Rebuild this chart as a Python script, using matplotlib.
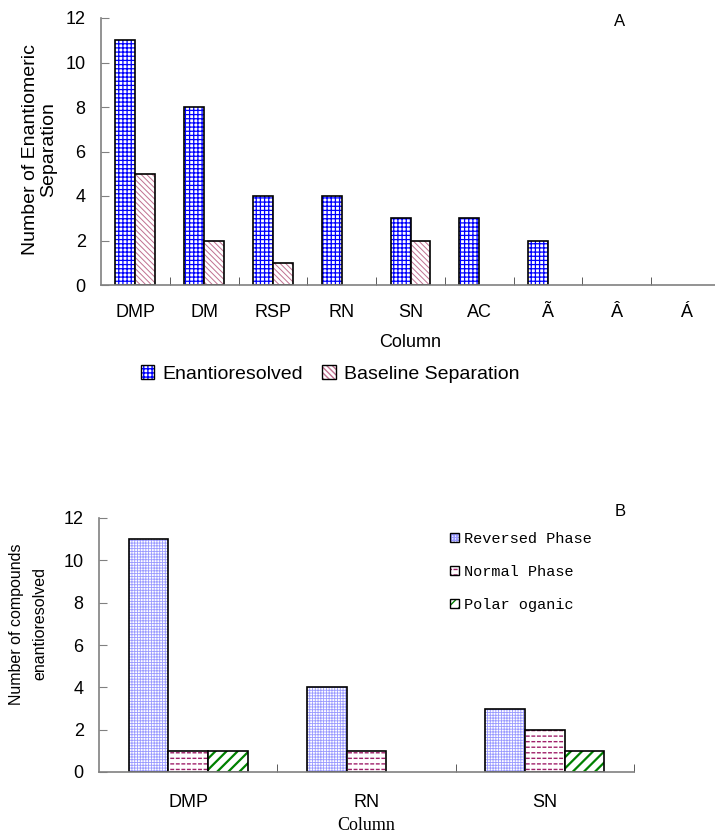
import numpy as np
import matplotlib
matplotlib.use("Agg")
import matplotlib.pyplot as plt
from matplotlib.patches import Patch

# panel A: number of enantiomeric separations per column
columns_a = ["DMP", "DM", "RSP", "RN", "SN", "AC", "Ã", "Â", "Á"]
enantioresolved = [11, 8, 4, 4, 3, 3, 2, 0, 0]
baseline_sep = [5, 2, 1, 0, 2, 0, 0, 0, 0]

# panel B: compounds enantioresolved per mode
columns_b = ["DMP", "RN", "SN"]
reversed_phase = [11, 4, 3]
normal_phase = [1, 1, 2]
polar_organic = [1, 0, 1]

SANS = "Liberation Sans"
SPINE = "#808080"

# hatch layers: (pattern, colour, hatch linewidth); later layers drawn on top
STYLE_ENANT = [("++++", "#0000ff", 0.9)]
STYLE_BASE = [("\\\\\\\\\\\\", "#c07090", 0.7)]
STYLE_RP = [("++++++", "#9a9aff", 0.6)]
# dashed horizontal lines: red lines cut by white verticals
STYLE_NP = [("---", "#a0206a", 1.0), ("|||", "white", 1.2)]
STYLE_PO = [("///", "#008000", 1.6)]


def hatched_bars(ax, x, heights, width, layers):
    """White bars with coloured hatching and a black outline."""
    x = np.asarray(x, dtype=float)
    h = np.asarray(heights, dtype=float)
    keep = h > 0
    ax.bar(x[keep], h[keep], width, color="white", linewidth=0)
    for hatch, color, lw in layers:
        with plt.rc_context({"hatch.linewidth": lw}):
            ax.bar(x[keep], h[keep], width, fill=False, edgecolor=color,
                   hatch=hatch, linewidth=0)
    ax.bar(x[keep], h[keep], width, fill=False, edgecolor="black", linewidth=1.2)


def legend_handle(layers):
    parts = [Patch(facecolor="white", linewidth=0)]
    for hatch, color, lw in layers:
        with plt.rc_context({"hatch.linewidth": lw}):
            parts.append(Patch(fill=False, edgecolor=color, hatch=hatch, linewidth=0))
    parts.append(Patch(fill=False, edgecolor="black", linewidth=1.0))
    return tuple(parts)


def style_axes(ax, n):
    for side in ("top", "right"):
        ax.spines[side].set_visible(False)
    for side in ("left", "bottom"):
        ax.spines[side].set_color(SPINE)
        ax.spines[side].set_linewidth(1.2)
    ax.set_xlim(-0.5, n - 0.5)
    ax.set_ylim(0, 12)
    ax.set_yticks(range(0, 13, 2))
    ax.tick_params(axis="y", direction="in", length=6, color=SPINE,
                   labelsize=13, pad=11)
    ax.set_xticks(np.arange(n))
    ax.set_xticks(np.arange(0.5, n), minor=True)
    ax.tick_params(axis="x", which="major", length=0, labelsize=13, pad=14)
    ax.tick_params(axis="x", which="minor", direction="in", length=6,
                   color="#404040")
    for lab in ax.get_xticklabels() + ax.get_yticklabels():
        lab.set_fontfamily(SANS)


fig = plt.figure(figsize=(7.15, 8.34), dpi=100)

# ---------------- panel A ----------------
axA = fig.add_axes([101 / 715, 1 - 285 / 834, 619 / 715, 267 / 834])
xa = np.arange(len(columns_a))
wa = 0.29
hatched_bars(axA, xa - wa / 2, enantioresolved, wa, STYLE_ENANT)
hatched_bars(axA, xa + wa / 2, baseline_sep, wa, STYLE_BASE)
style_axes(axA, len(columns_a))
axA.set_xticklabels(columns_a)
axA.set_xlabel("Column", fontsize=13, fontfamily=SANS, labelpad=9)
fig.text(31 / 715, 1 - 150 / 834, "Number of Enantiomeric", rotation=90,
         ha="center", va="center", fontsize=14, fontfamily=SANS)
fig.text(49 / 715, 1 - 150 / 834, "Separation", rotation=90,
         ha="center", va="center", fontsize=14, fontfamily=SANS)
fig.text(620 / 715, 1 - 22 / 834, "A", ha="center", va="center",
         fontsize=12, fontfamily=SANS)

fig.legend([legend_handle(STYLE_ENANT), legend_handle(STYLE_BASE)],
           ["Enantioresolved", "Baseline Separation"],
           loc="center", bbox_to_anchor=(330 / 715, 1 - 374 / 834), ncol=2,
           frameon=False, handlelength=0.7, handleheight=0.7,
           handletextpad=0.4, columnspacing=1.0,
           prop={"family": SANS, "size": 14})

# ---------------- panel B ----------------
axB = fig.add_axes([99 / 715, 1 - 772 / 834, 535 / 715, 254 / 834])
xb = np.arange(len(columns_b))
wb = 0.222
hatched_bars(axB, xb - wb, reversed_phase, wb, STYLE_RP)
hatched_bars(axB, xb, normal_phase, wb, STYLE_NP)
hatched_bars(axB, xb + wb, polar_organic, wb, STYLE_PO)
style_axes(axB, len(columns_b))
axB.set_xticklabels(columns_b)
axB.tick_params(axis="x", which="major", pad=16)
axB.set_xlabel("Column", fontsize=13, fontfamily="Liberation Serif", labelpad=4)
fig.text(17 / 715, 1 - 624 / 834, "Number of compounds", rotation=90,
         ha="center", va="center", fontsize=11.5, fontfamily=SANS)
fig.text(40 / 715, 1 - 624 / 834, "enantioresolved", rotation=90,
         ha="center", va="center", fontsize=11.5, fontfamily=SANS)
fig.text(620 / 715, 1 - 511 / 834, "B", ha="center", va="center",
         fontsize=12, fontfamily=SANS)

fig.legend([legend_handle(STYLE_RP), legend_handle(STYLE_NP), legend_handle(STYLE_PO)],
           ["Reversed Phase", "Normal Phase", "Polar oganic"],
           loc="upper left", bbox_to_anchor=(436 / 715, 1 - 518 / 834),
           frameon=False, handlelength=0.6, handleheight=0.6,
           handletextpad=0.35, labelspacing=1.25,
           prop={"family": "Liberation Mono", "size": 11})

fig.savefig("out.png", dpi=100)
